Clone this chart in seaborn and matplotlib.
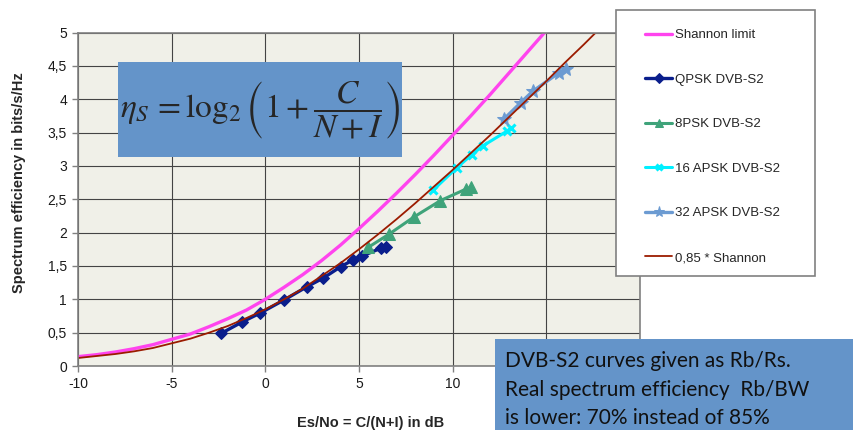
import matplotlib
matplotlib.use('Agg')
import seaborn as sns
from matplotlib import pyplot as plt
from matplotlib.patches import Rectangle

# Es/No grid (dB) for the two Shannon curves
snr_db = [-10, -9, -8, -7, -6, -5, -4, -3, -2, -1, 0, 1, 2, 3, 4, 5, 6, 7, 8, 9, 10,
          11, 12, 13, 14, 15, 16, 17, 18, 19, 20]
shannon_limit = [0.14, 0.17, 0.21, 0.26, 0.32, 0.40, 0.48, 0.59, 0.71, 0.84, 1.00,
                 1.18, 1.37, 1.58, 1.81, 2.06, 2.32, 2.59, 2.87, 3.16, 3.46,
                 3.76, 4.07, 4.39, 4.71, 5.03, 5.35, 5.68, 6.00, 6.33, 6.66]
shannon_085 = [0.12, 0.15, 0.18, 0.22, 0.27, 0.34, 0.41, 0.50, 0.60, 0.72, 0.85,
               1.00, 1.16, 1.35, 1.54, 1.75, 1.97, 2.20, 2.44, 2.69, 2.94,
               3.20, 3.46, 3.73, 4.00, 4.27, 4.55, 4.82, 5.10, 5.38, 5.66]

# DVB-S2 modcods
qpsk_x = [-2.35, -1.24, -0.30, 1.00, 2.23, 3.10, 4.03, 4.68, 5.18, 6.20, 6.42]
qpsk_y = [0.49, 0.66, 0.79, 0.99, 1.19, 1.32, 1.49, 1.59, 1.65, 1.77, 1.79]
psk8_x = [5.50, 6.62, 7.91, 9.35, 10.69, 10.98]
psk8_y = [1.78, 1.98, 2.23, 2.48, 2.65, 2.68]
apsk16_x = [8.97, 10.21, 11.03, 11.61, 12.89, 13.13]
apsk16_y = [2.64, 2.97, 3.17, 3.30, 3.52, 3.57]
apsk32_x = [12.73, 13.64, 14.28, 15.69, 16.05]
apsk32_y = [3.70, 3.95, 4.12, 4.40, 4.45]

x_ticks = [-10, -5, 0, 5, 10, 15, 20]
x_tick_labels = ['-10', '-5', '0', '5', '10', '', '']  # 15 and 20 sit under the note box
y_ticks = [0, 0.5, 1, 1.5, 2, 2.5, 3, 3.5, 4, 4.5, 5]
y_tick_labels = ['0', '0,5', '1', '1,5', '2', '2,5', '3', '3,5', '4', '4,5', '5']

note_lines = ['DVB-S2 curves given as Rb/Rs.',
              'Real spectrum efficiency  Rb/BW',
              'is lower: 70% instead of 85%']

sns.set_style('white')
plt.rcParams['font.family'] = ['Liberation Sans', 'DejaVu Sans']
plt.rcParams['axes.unicode_minus'] = False

W, H = 854, 430
fig = plt.figure(figsize=(W / 100, H / 100), dpi=100)
ax = fig.add_axes([78 / W, 64 / H, 562 / W, 333.5 / H])
ax.set_facecolor('#F0F0E8')

sns.lineplot(x=snr_db, y=shannon_limit, ax=ax, color='#FF44EE', lw=2.4, label='Shannon limit')
sns.lineplot(x=qpsk_x, y=qpsk_y, ax=ax, color='#0A1E8C', lw=2.4, marker='D', markersize=6.5,
             markeredgecolor='#0A1E8C', label='QPSK DVB-S2')
sns.lineplot(x=psk8_x, y=psk8_y, ax=ax, color='#3FA37A', lw=2.2, marker='^', markersize=8,
             markeredgecolor='#3FA37A', label='8PSK DVB-S2')
sns.lineplot(x=apsk16_x, y=apsk16_y, ax=ax, color='#00F0FF', lw=2.2, marker='x', markersize=6,
             markeredgecolor='#00F0FF', markeredgewidth=2.2, label='16 APSK DVB-S2')
sns.lineplot(x=apsk32_x, y=apsk32_y, ax=ax, color='#6C9BD2', lw=2.4, marker='*', markersize=10,
             markeredgecolor='#6C9BD2', label='32 APSK DVB-S2')
sns.lineplot(x=snr_db, y=shannon_085, ax=ax, color='#9B1B00', lw=1.3, label='0,85 * Shannon')

ax.set_xlim(-10, 20)
ax.set_ylim(0, 5)
ax.set_xticks(x_ticks)
ax.set_xticklabels(x_tick_labels)
ax.set_yticks(y_ticks)
ax.set_yticklabels(y_tick_labels)
ax.grid(True, color='#444444', lw=0.8)
ax.tick_params(direction='out', length=4, width=1, color='#808080', labelsize=10,
               labelcolor='#1a1a1a', pad=4, left=True, bottom=True)
for s in ax.spines.values():
    s.set_color('#808080')
    s.set_linewidth(1.2)

ax.set_xlabel('Es/No = C/(N+I) in dB', fontsize=10.5, fontweight='bold')
ax.set_ylabel('Spectrum efficiency in bits/s/Hz', fontsize=10.5, fontweight='bold')
ax.xaxis.set_label_coords(0.52, -0.15)
ax.yaxis.set_label_coords(-0.0925, 0.55)

handles, labels = ax.get_legend_handles_labels()
ax.get_legend().remove()

# legend box
fig.add_artist(Rectangle((616 / W, 1 - 276 / H), 199 / W, 266 / H, transform=fig.transFigure,
                         facecolor='white', edgecolor='#808080', lw=1.2, zorder=4))
fig.legend(handles, labels, loc='upper left', bbox_to_anchor=(645 / W, 1 - 29 / H),
           frameon=False, fontsize=9.5, labelspacing=2.45, handlelength=2.05,
           handletextpad=0.25, borderpad=0, borderaxespad=0, numpoints=1, markerscale=0.8)

# formula box
fig.add_artist(Rectangle((118 / W, 1 - 157 / H), 284 / W, 95 / H, transform=fig.transFigure,
                         facecolor='#6494C9', edgecolor='none', zorder=3))
fig.text(260 / W, 1 - 110 / H, r'$\eta_S\,=\log_2\left(1+\dfrac{C}{N+I}\right)$',
         ha='center', va='center', fontsize=24, math_fontfamily='stix', zorder=4)

# note box
fig.add_artist(Rectangle((495 / W, 0), (W - 495) / W, (H - 339) / H, transform=fig.transFigure,
                         facecolor='#6494C9', edgecolor='none', zorder=3))
for i, line in enumerate(note_lines):
    fig.text(505 / W, 1 - (367 + 28.5 * i) / H, line, ha='left', va='baseline',
             fontsize=15, family=['Lato', 'DejaVu Sans'], color='#111111', zorder=4)

fig.savefig('out.png', dpi=100)
